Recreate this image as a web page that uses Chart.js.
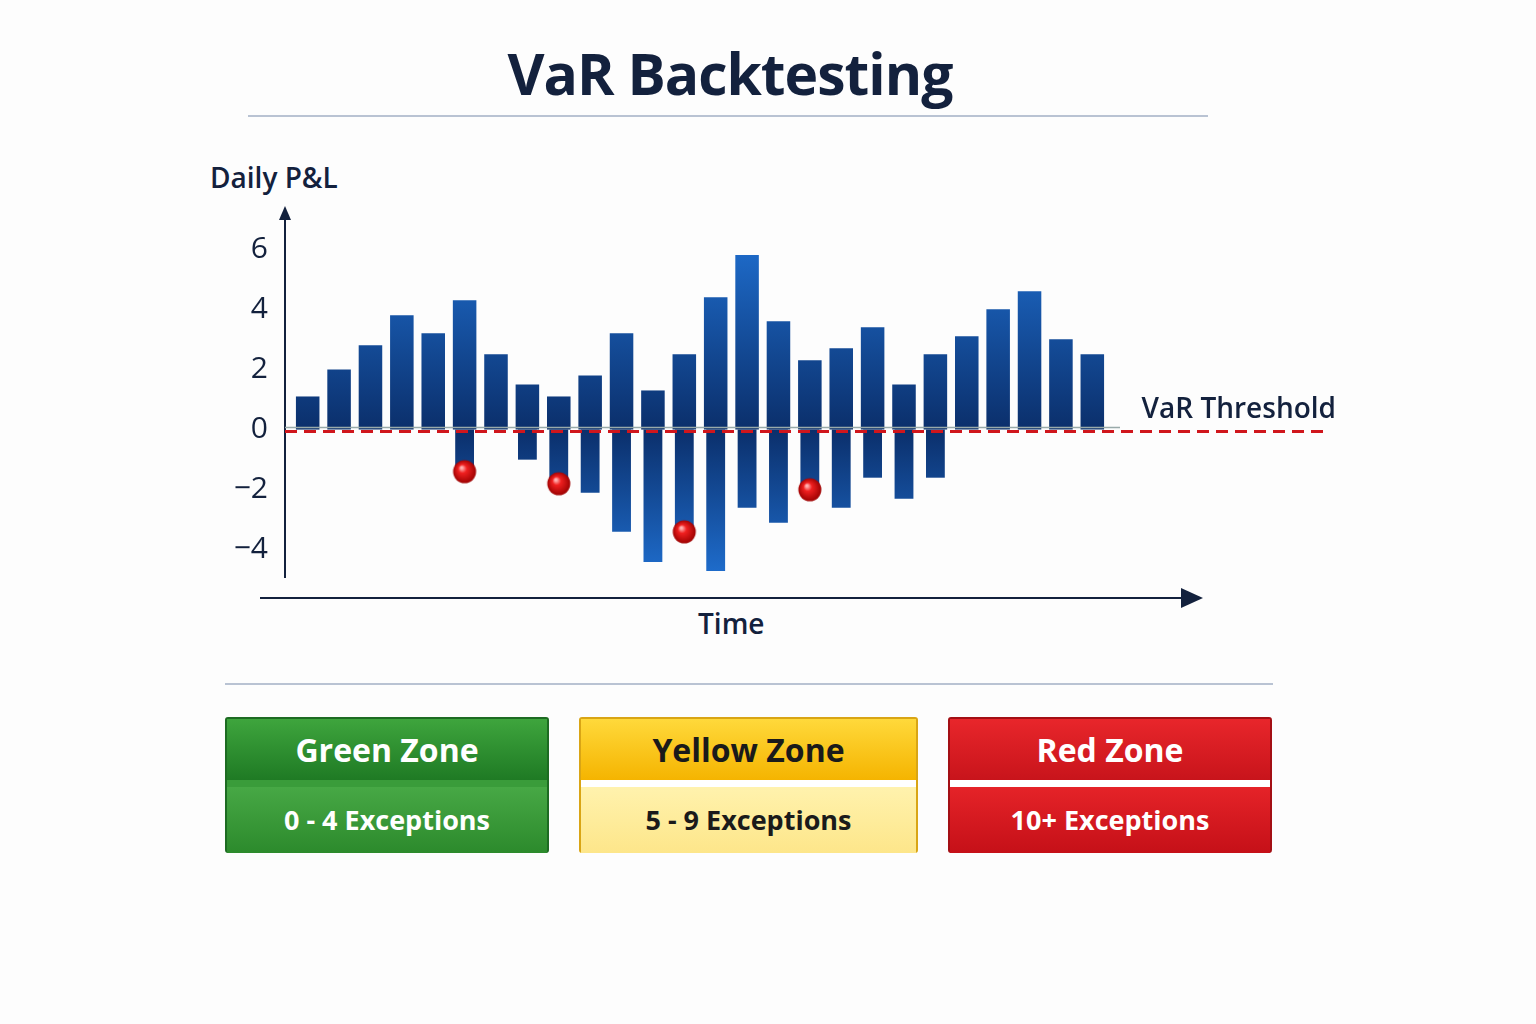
<!DOCTYPE html>
<html><head><meta charset="utf-8">
<script src="https://cdn.jsdelivr.net/npm/chart.js@4"></script>
<style>
body{margin:0;width:1536px;height:1024px;background:#fdfdfd;font-family:"Open Sans",Lato,sans-serif;position:relative;overflow:hidden}
.abs{position:absolute}
h1{position:absolute;left:0;width:1460px;top:34px;margin:0;text-align:center;font-size:57px;font-weight:700;color:#13213d;letter-spacing:-1px}
.rule{position:absolute;height:2px;background:#b9c3d3}
.zone{position:absolute;top:717px;height:136px;border-radius:3px;box-sizing:border-box;font-weight:700;text-align:center}
.zone .h{height:61px;line-height:61px;font-size:32px}
.zone .b{margin-top:7px;height:66px;line-height:66px;font-size:27px}
#wrap{position:absolute;left:200px;top:150px;width:1160px;height:500px}
</style></head><body>
<h1>VaR Backtesting</h1>
<div class="rule" style="left:248px;width:960px;top:115px"></div>
<div class="abs" style="left:210px;top:158px;font-size:28px;font-weight:600;color:#13213d">Daily P&amp;L</div>
<div class="abs" style="left:698px;top:604px;font-size:28px;font-weight:600;color:#13213d">Time</div>
<div class="rule" style="left:225px;width:1048px;top:683px"></div>
<div id="wrap"><canvas id="c"></canvas></div>
<div class="zone" style="left:225px;width:324px;background:#3a9c3a;border:2px solid #1d6b22;color:#fff">
 <div class="h" style="background:linear-gradient(#3ea53d,#1f7a24)">Green Zone</div>
 <div class="b" style="background:linear-gradient(#47a845,#2c8a2c)">0 - 4 Exceptions</div></div>
<div class="zone" style="left:579px;width:339px;background:#fff;border:2px solid #d9a515;color:#1a1a1a">
 <div class="h" style="background:linear-gradient(#ffd93b,#f5b400)">Yellow Zone</div>
 <div class="b" style="background:linear-gradient(#fff2ad,#fde68a)">5 - 9 Exceptions</div></div>
<div class="zone" style="left:948px;width:324px;background:#fff;border:2px solid #a30f14;color:#fff">
 <div class="h" style="background:linear-gradient(#e8262b,#c8141b)">Red Zone</div>
 <div class="b" style="background:linear-gradient(#e52328,#c51018)">10+ Exceptions</div></div>
<script>
var days = Array.from({length: 26}, (_, i) => "D" + (i + 1));
var profits = [1.1, 2.0, 2.8, 3.8, 3.2, 4.3, 2.5, 1.5, 1.1, 1.8, 3.2, 1.3, 2.5, 4.4, 5.8, 3.6, 2.3, 2.7, 3.4, 1.5, 2.5, 3.1, 4.0, 4.6, 3.0, 2.5];
var losses = [null, null, null, null, null, -1.3, null, -1.0, -1.8, -2.1, -3.4, -4.4, -3.3, -4.7, -2.6, -3.1, -2.0, -2.6, -1.6, -2.3, -1.6, null, null, null, null, null];
var exceptions = [null, null, null, null, null, -1.4, null, null, -1.8, null, null, null, -3.4, null, null, null, -2.0, null, null, null, null, null, null, null, null, null];
var yTicks = [-4, -2, 0, 2, 4, 6];

// shaded red ball for exception markers
var ball = document.createElement("canvas");
ball.width = ball.height = 26;
var bc = ball.getContext("2d");
var g = bc.createRadialGradient(10, 9, 1, 13, 13, 12);
g.addColorStop(0, "#ffb0b0"); g.addColorStop(0.3, "#f02020"); g.addColorStop(1, "#9a0000");
bc.fillStyle = g; bc.beginPath(); bc.arc(13, 13, 11.5, 0, Math.PI * 2); bc.fill();

function barGrad(ctx, up) {
  var ch = ctx.chart, a = ch.chartArea;
  if (!a || !ch.scales.y) return "#1a5fb4";
  var y0 = ch.scales.y.getPixelForValue(0);
  var gr = ch.ctx.createLinearGradient(0, up ? a.top : y0, 0, up ? y0 : a.bottom);
  if (up) { gr.addColorStop(0, "#1f6fd0"); gr.addColorStop(1, "#0b2f6b"); }
  else { gr.addColorStop(0, "#0b2f6b"); gr.addColorStop(1, "#1f6fd0"); }
  return gr;
}

var decor = {
  id: "decor",
  afterDatasetsDraw(chart) {
    var c = chart.ctx, a = chart.chartArea, y0 = chart.scales.y.getPixelForValue(0);
    c.save();
    c.strokeStyle = "#13213d"; c.fillStyle = "#13213d"; c.lineWidth = 2;
    var ax = a.left - 7;
    c.beginPath(); c.moveTo(ax, 428); c.lineTo(ax, 62); c.stroke();
    c.beginPath(); c.moveTo(ax, 56); c.lineTo(ax - 6, 70); c.lineTo(ax + 6, 70); c.fill();
    c.beginPath(); c.moveTo(60, 448); c.lineTo(985, 448); c.stroke();
    c.beginPath(); c.moveTo(1003, 448); c.lineTo(981, 438); c.lineTo(981, 458); c.fill();
    c.strokeStyle = "#9aa"; c.lineWidth = 1.5;
    c.beginPath(); c.moveTo(ax, y0 - 2); c.lineTo(a.right + 12, y0 - 2); c.stroke();
    c.strokeStyle = "#d0161c"; c.lineWidth = 3; c.setLineDash([12, 7]);
    c.beginPath(); c.moveTo(ax, y0 + 2); c.lineTo(1128, y0 + 2); c.stroke();
    c.setLineDash([]);
    c.font = "600 28px 'Open Sans'"; c.textAlign = "right";
    c.fillText("VaR Threshold", 1136, y0 - 12);
    c.restore();
  }
};

new Chart(document.getElementById("c"), {
  type: "bar",
  data: {
    labels: days,
    datasets: [
      { type: "line", data: exceptions, showLine: false, pointStyle: ball, pointRadius: 12, order: 0 },
      { data: profits, backgroundColor: c => barGrad(c, true), barPercentage: 0.75, categoryPercentage: 1, order: 2 },
      { data: losses, backgroundColor: c => barGrad(c, false), barPercentage: 0.6, categoryPercentage: 1, order: 1 }
    ]
  },
  options: {
    responsive: true, maintainAspectRatio: false, animation: false,
    layout: { padding: { left: 0, right: 252, top: 84, bottom: 70 } },
    plugins: { legend: { display: false }, tooltip: { enabled: false } },
    scales: {
      x: { stacked: true, offset: true, display: false },
      y: {
        min: -5.0, max: 6.5,
        afterFit(s) { s.width = 92; },
        afterBuildTicks(s) { s.ticks = yTicks.map(v => ({ value: v })); },
        grid: { display: false }, border: { display: false },
        ticks: { color: "#13213d", font: { size: 30, family: "Open Sans" }, padding: 16,
          callback: v => v < 0 ? "\u2212" + Math.abs(v) : v }
      }
    }
  },
  plugins: [decor]
});
</script>
</body></html>
